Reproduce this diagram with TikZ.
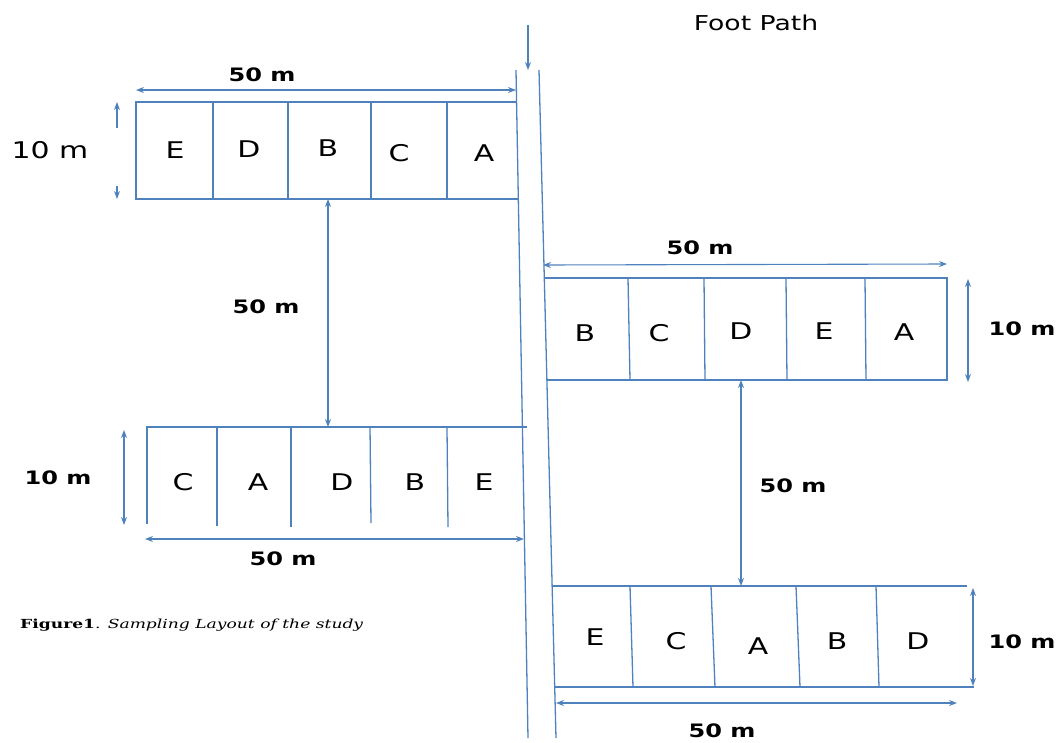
\documentclass[tikz,border=0pt]{standalone}
\usepackage{fontspec}
\setmainfont[FakeStretch=1.3]{DejaVu Sans}
\newfontfamily\capfont[FakeStretch=1.37]{DejaVu Serif}
\usetikzlibrary{arrows.meta}
\definecolor{lineblue}{RGB}{79,129,189}
\tikzset{
  ln/.style={draw=lineblue, line width=1.3pt},
  dim/.style={draw=lineblue, line width=1.1pt, {Stealth[length=8pt,width=6pt]}-{Stealth[length=8pt,width=6pt]}},
  onearrow/.style={draw=lineblue, line width=1.1pt, -{Stealth[length=8pt,width=6pt]}},
  plot/.style={font=\fontsize{23}{26}\selectfont, inner sep=0pt},
  lab/.style={font=\fontsize{18.5}{22}\selectfont\bfseries, inner sep=0pt},
  biglab/.style={font=\fontsize{23}{26}\selectfont, inner sep=0pt}
}
\begin{document}
\begin{tikzpicture}[x=1pt,y=-1pt]
\useasboundingbox (0,0) rectangle (1058,742);
% foot path
\coordinate (fpL1) at (516,70); \coordinate (fpL2) at (528,738);
\coordinate (fpR1) at (539,70); \coordinate (fpR2) at (556,738);
\draw[ln] (fpL1) -- (fpL2);
\draw[ln] (fpR1) -- (fpR2);
\coordinate (fpA1) at (528,25); \coordinate (fpA2) at (528,70);
\draw[onearrow] (fpA1) -- (fpA2);
\node[font=\fontsize{20.5}{24}\selectfont, inner sep=0pt] (fp) at (756,23) {Foot Path};

% ---- top-left block
\draw[ln] (516.6,102) -- (136,102) -- (136,199) -- (518.3,199);
\foreach \x in {213,288,371,447} \draw[ln] (\x,102) -- (\x,199);
\node[plot] (tl1) at (175,150) {E};
\node[plot] (tl2) at (249,149) {D};
\node[plot] (tl3) at (328,148) {B};
\node[plot] (tl4) at (399,153) {C};
\node[plot] (tl5) at (484,153) {A};
\coordinate (tlw1) at (136,90); \coordinate (tlw2) at (516,90);
\draw[dim] (tlw1) -- (tlw2);
\node[lab] (tlwl) at (262,75) {50 m};
\coordinate (tlh1) at (117,128); \coordinate (tlh2) at (117,102);
\coordinate (tlh3) at (117,186); \coordinate (tlh4) at (117,199);
\draw[onearrow] (tlh1) -- (tlh2);
\draw[onearrow] (tlh3) -- (tlh4);
\node[biglab] (tlhl) at (50,150) {10 m};
% gap arrow left
\coordinate (gl1) at (328,199); \coordinate (gl2) at (328,427);
\draw[dim] (gl1) -- (gl2);
\node[lab] (gll) at (266,307) {50 m};

% ---- bottom-left block
\draw[ln] (147,524) -- (147,427) -- (527,427);
\draw[ln] (217,427) -- (217,526);
\draw[ln] (291,427) -- (291,527);
\draw[ln] (370,426) -- (371,523);
\draw[ln] (447,428) -- (448,527);
\node[plot] (bl1) at (183,482) {C};
\node[plot] (bl2) at (258,482) {A};
\node[plot] (bl3) at (342,482) {D};
\node[plot] (bl4) at (415,482) {B};
\node[plot] (bl5) at (484,482) {E};
\coordinate (blh1) at (124,430); \coordinate (blh2) at (124,525);
\draw[dim] (blh1) -- (blh2);
\node[lab] (blhl) at (58,478) {10 m};
\coordinate (blw1) at (145,539); \coordinate (blw2) at (524,539);
\draw[dim] (blw1) -- (blw2);
\node[lab] (blwl) at (283,559) {50 m};

% caption
\node[anchor=west, inner sep=0pt, font=\capfont\fontsize{12.5}{15}\selectfont] (cap) at (20,625) {\textbf{Figure1}. \textit{Sampling Layout of the study}};

% ---- top-right block
\draw[ln] (544.3,278) -- (947,278) -- (947,380) -- (546.9,380);
\draw[ln] (628,278) -- (630,380);
\draw[ln] (704,278) -- (705,380);
\draw[ln] (786,278) -- (787,380);
\draw[ln] (865,278) -- (866,380);
\node[plot] (tr1) at (585,333) {B};
\node[plot] (tr2) at (659,333) {C};
\node[plot] (tr3) at (741,331) {D};
\node[plot] (tr4) at (824,331) {E};
\node[plot] (tr5) at (904,332) {A};
\coordinate (trw1) at (543,265); \coordinate (trw2) at (947,264);
\draw[dim] (trw1) -- (trw2);
\node[lab] (trwl) at (700,248) {50 m};
\coordinate (trh1) at (968,279); \coordinate (trh2) at (968,382);
\draw[dim] (trh1) -- (trh2);
\node[lab] (trhl) at (1022,329) {10 m};
\coordinate (gr1) at (741,380); \coordinate (gr2) at (741,586);
\draw[dim] (gr1) -- (gr2);
\node[lab] (grl) at (793,486) {50 m};

% ---- bottom-right block
\draw[ln] (552.1,586) -- (967,586);
\draw[ln] (554.7,687) -- (974,687);
\draw[ln] (630,586) -- (633,687);
\draw[ln] (711,586) -- (715,687);
\draw[ln] (796,586) -- (800,687);
\draw[ln] (876,586) -- (879,687);
\node[plot] (br1) at (595,637) {E};
\node[plot] (br2) at (676,641) {C};
\node[plot] (br3) at (758,646) {A};
\node[plot] (br4) at (837,641) {B};
\node[plot] (br5) at (918,641) {D};
\coordinate (brh1) at (973,588); \coordinate (brh2) at (973,686);
\draw[dim] (brh1) -- (brh2);
\node[lab] (brhl) at (1022,642) {10 m};
\coordinate (brw1) at (556,703); \coordinate (brw2) at (957,703);
\draw[dim] (brw1) -- (brw2);
\node[lab] (brwl) at (722,731) {50 m};
\end{tikzpicture}
\end{document}
